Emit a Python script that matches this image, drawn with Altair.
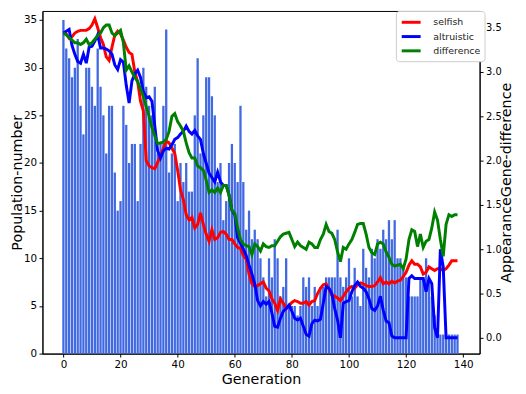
import altair as alt
import pandas as pd

generations = list(range(139))

population = [
    35, 32, 31, 29, 30, 33, 26, 23, 30, 30,
    28, 26, 32, 28, 25, 21, 26, 26, 19, 15,
    16, 26, 24, 20, 22, 22, 16, 22, 30, 28,
    26, 25, 28, 21, 22, 26, 34, 19, 21, 22,
    16, 20, 18, 20, 17, 17, 25, 31, 21, 25,
    29, 29, 27, 25, 18, 20, 14, 16, 20, 22,
    20, 18, 26, 18, 13, 15, 12, 13, 12, 10,
    8, 6, 10, 8, 12, 10, 6, 7, 10, 5,
    5, 5, 4, 5, 8, 7, 8, 5, 7, 5,
    7, 7, 8, 8, 8, 8, 13, 8, 7, 8,
    10, 6, 9, 6, 5, 11, 9, 8, 11, 10,
    12, 11, 13, 12, 14, 12, 14, 10, 10, 9,
    8, 6, 6, 6, 6, 8, 8, 10, 8, 6,
    4, 2, 2, 2, 2, 2, 2, 2, 2,
]

selfish = [
    3.44, 3.43, 3.38, 3.40, 3.44, 3.46, 3.47, 3.47, 3.47, 3.49,
    3.53, 3.60, 3.50, 3.39, 3.31, 3.17, 3.13, 3.28, 3.42, 3.46,
    3.43, 3.36, 3.28, 3.22, 3.20, 3.00, 2.89, 2.67, 2.56, 2.00,
    1.94, 1.92, 1.91, 1.98, 2.06, 2.14, 2.22, 2.20, 2.14, 2.08,
    1.89, 1.67, 1.56, 1.39, 1.33, 1.36, 1.24, 1.28, 1.41, 1.28,
    1.17, 1.09, 1.22, 1.11, 1.13, 1.19, 1.20, 1.17, 1.11, 1.11,
    1.06, 1.02, 1.01, 0.93, 0.89, 0.72, 0.61, 0.58, 0.59, 0.61,
    0.63, 0.56, 0.53, 0.44, 0.39, 0.31, 0.44, 0.39, 0.33, 0.36,
    0.40, 0.42, 0.41, 0.39, 0.39, 0.41, 0.37, 0.41, 0.42, 0.50,
    0.56, 0.60, 0.61, 0.55, 0.48, 0.47, 0.45, 0.42, 0.47, 0.52,
    0.56, 0.58, 0.56, 0.60, 0.62, 0.61, 0.59, 0.58, 0.58, 0.59,
    0.63, 0.68, 0.61, 0.63, 0.61, 0.64, 0.62, 0.64, 0.65, 0.69,
    0.74, 0.82, 0.87, 0.83, 0.83, 0.80, 0.72, 0.74, 0.80, 0.78,
    0.76, 0.78, 0.78, 0.76, 0.78, 0.82, 0.87, 0.87, 0.87,
]

altruistic = [
    3.44, 3.46, 3.48, 3.30, 3.20, 3.12, 3.10, 3.20, 3.10, 3.28,
    3.29, 3.35, 3.42, 3.27, 3.27, 3.26, 3.24, 3.20, 3.08, 3.03,
    3.14, 3.11, 2.85, 2.65, 2.90, 2.98, 3.02, 2.94, 2.78, 2.71,
    2.72, 2.67, 2.39, 2.11, 2.03, 2.11, 2.14, 2.13, 2.18, 2.24,
    2.26, 2.30, 2.33, 2.39, 2.33, 2.30, 2.34, 2.28, 2.24, 2.08,
    1.97, 1.86, 1.81, 1.76, 1.87, 1.76, 1.72, 1.72, 1.61, 1.44,
    1.39, 1.13, 1.07, 1.00, 0.93, 0.82, 0.72, 0.61, 0.42, 0.36,
    0.41, 0.38, 0.41, 0.28, 0.13, 0.12, 0.22, 0.30, 0.33, 0.37,
    0.30, 0.22, 0.20, 0.22, 0.13, 0.04, 0.02, 0.16, 0.20, 0.19,
    0.21, 0.39, 0.58, 0.56, 0.50, 0.33, 0.20, 0.00, 0.39, 0.41,
    0.42, 0.52, 0.59, 0.63, 0.58, 0.56, 0.52, 0.44, 0.33, 0.31,
    0.36, 0.47, 0.31, 0.19, 0.17, 0.02, 0.00, 0.00, 0.00, 0.00,
    0.00, 0.67, 0.70, 0.67, 0.67, 0.67, 0.67, 0.52, 0.67, 0.61,
    0.11, 0.00, 1.00, 0.80, 0.00, 0.00, 0.00, 0.00, 0.00,
]

difference = [
    3.44, 3.42, 3.39, 3.36, 3.33, 3.33, 3.31, 3.33, 3.37, 3.31,
    3.33, 3.37, 3.41, 3.44, 3.50, 3.53, 3.53, 3.44, 3.41, 3.44,
    3.47, 3.33, 3.02, 3.07, 3.00, 2.94, 2.89, 2.81, 2.72, 2.61,
    2.50, 2.37, 2.28, 2.19, 2.20, 2.21, 2.24, 2.33, 2.50, 2.53,
    2.44, 2.39, 2.33, 2.20, 2.09, 2.03, 2.03, 1.94, 1.92, 1.89,
    1.78, 1.64, 1.67, 1.64, 1.69, 1.64, 1.72, 1.72, 1.61, 1.44,
    1.41, 1.24, 1.11, 1.06, 1.04, 1.03, 0.94, 1.06, 1.03, 0.98,
    1.06, 1.03, 1.02, 1.04, 1.04, 1.09, 1.14, 1.17, 1.18, 1.19,
    1.11, 1.03, 1.08, 1.04, 1.02, 1.00, 1.08, 1.06, 1.02, 1.02,
    1.11, 1.17, 1.28, 1.20, 1.18, 1.11, 0.97, 0.86, 1.02, 1.00,
    1.06, 1.11, 1.19, 1.28, 1.29, 1.29, 1.17, 1.02, 0.96, 0.94,
    1.06, 1.08, 1.06, 0.97, 0.91, 0.83, 0.81, 0.82, 0.83, 0.78,
    0.89, 1.11, 1.22, 1.20, 1.03, 1.17, 1.02, 1.09, 1.11, 1.24,
    1.42, 1.33, 1.11, 0.92, 1.28, 1.39, 1.37, 1.39, 1.39,
]

series_names = ["selfish", "altruistic", "difference"]
series_colors = ["#ff0000", "#0000ff", "#008000"]
x_ticks = [0, 20, 40, 60, 80, 100, 120, 140]
left_ticks = [0, 5, 10, 15, 20, 25, 30, 35]
right_ticks = [0.0, 0.5, 1.0, 1.5, 2.0, 2.5, 3.0, 3.5]

df = pd.DataFrame({
    "gen": generations,
    "pop": population,
    "selfish": selfish,
    "altruistic": altruistic,
    "difference": difference,
})

FONT = "DejaVu Sans"
x_scale = alt.Scale(domain=[-7.34, 145.74], nice=False, zero=False)
x_axis = alt.Axis(values=x_ticks, format="d", title="Generation", grid=False,
                  titlePadding=2)

bars = alt.Chart(df).transform_calculate(
    x0="datum.gen - 0.4", x1="datum.gen + 0.4", base="0"
).mark_bar(color="#4169E1").encode(
    x=alt.X("x0:Q", scale=x_scale, axis=x_axis),
    x2="x1:Q",
    y=alt.Y("pop:Q", scale=alt.Scale(domain=[0, 35.95], nice=False, zero=False),
            axis=alt.Axis(orient="left", values=left_ticks, title="Population-number",
                          grid=False, titlePadding=-1, labelPadding=2.5)),
    y2="base:Q",
)

color_scale = alt.Scale(domain=series_names, range=series_colors)
legend = alt.Legend(title=None, orient="none", legendX=359, legendY=0,
                    symbolType="M-1.6,0H1.6", symbolStrokeWidth=3, symbolSize=144,
                    symbolOffset=4,
                    labelFontSize=9.5, labelFont=FONT, labelColor="#222222",
                    fillColor="white", strokeColor="#cccccc", cornerRadius=3,
                    padding=4, rowPadding=0.5, labelOffset=15)
right_axis = alt.Axis(orient="right", values=right_ticks, format=".1f",
                      title="AppearanceGene-difference", grid=False,
                      titleAngle=270, titleBaseline="top", titlePadding=-1.5,
                      labelFontSize=10, labelPadding=2.5)
r_scale = alt.Scale(domain=[-0.178, 3.689], nice=False, zero=False)


def line_layer(name):
    return alt.Chart(df).transform_fold(
        series_names, as_=["series", "value"]
    ).transform_filter(
        alt.datum.series == name
    ).mark_line(strokeWidth=3).encode(
        x=alt.X("gen:Q", scale=x_scale, axis=x_axis),
        y=alt.Y("value:Q", scale=r_scale, axis=right_axis),
        color=alt.Color("series:N", scale=color_scale, legend=legend),
    )


lines = alt.layer(*[line_layer(n) for n in series_names])

chart = alt.layer(bars, lines).resolve_scale(y="independent").properties(
    width=444, height=348,
    padding={"left": 35, "top": 0, "right": 39, "bottom": 37},
    autosize=alt.AutoSizeParams(type="none"),
).configure_view(
    stroke="black", strokeWidth=1
).configure_axis(
    domainColor="black", tickColor="black", labelColor="black", titleColor="black",
    labelFont=FONT, titleFont=FONT, labelFontSize=10.5, titleFontSize=14.5,
    titleFontWeight="normal", tickSize=3.5, labelPadding=3,
)

chart.save("out.html", embed_options={"renderer": "svg", "actions": False})
